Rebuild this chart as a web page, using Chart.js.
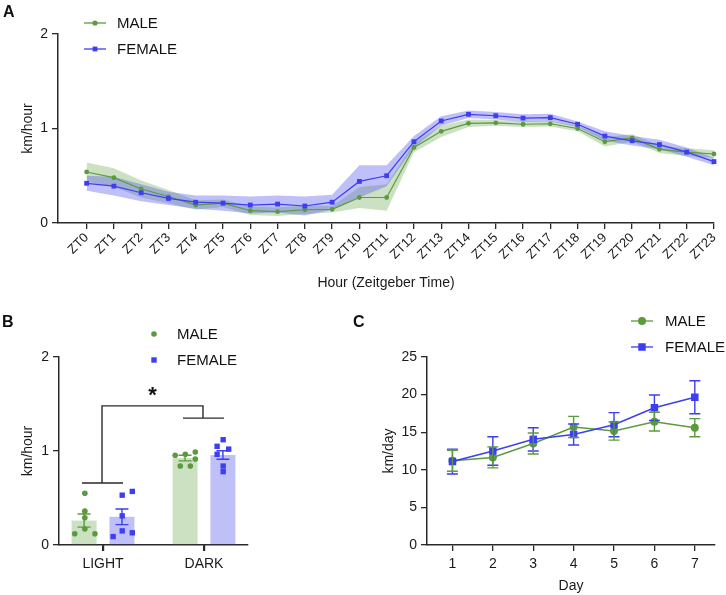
<!DOCTYPE html>
<html>
<head>
<meta charset="utf-8">
<script src="https://cdn.jsdelivr.net/npm/chart.js@4.4.1/dist/chart.umd.min.js"></script>
<style>
  body { margin: 0; background: #fff; }
  #wrap { position: relative; width: 726px; height: 595px; }
  canvas { position: absolute; }
</style>
</head>
<body>
<div id="wrap">
  <canvas id="chartA" width="726" height="300" style="left:0;top:0;width:726px;height:300px"></canvas>
  <canvas id="chartB" width="330" height="295" style="left:0;top:300px;width:330px;height:295px"></canvas>
  <canvas id="chartC" width="396" height="295" style="left:330px;top:300px;width:396px;height:295px"></canvas>
</div>
<script>
// panel A: hourly speed
const hourLabels = ["ZT0", "ZT1", "ZT2", "ZT3", "ZT4", "ZT5", "ZT6", "ZT7", "ZT8", "ZT9", "ZT10", "ZT11",
  "ZT12", "ZT13", "ZT14", "ZT15", "ZT16", "ZT17", "ZT18", "ZT19", "ZT20", "ZT21", "ZT22", "ZT23"];
const maleHourly = [0.54, 0.48, 0.36, 0.28, 0.19, 0.21, 0.13, 0.12, 0.14, 0.145, 0.27, 0.27,
  0.80, 0.97, 1.055, 1.06, 1.045, 1.05, 1.00, 0.86, 0.90, 0.78, 0.75, 0.73];
const maleHourlySem = [0.10, 0.10, 0.09, 0.07, 0.05, 0.04, 0.045, 0.045, 0.045, 0.035, 0.11, 0.14,
  0.05, 0.06, 0.04, 0.03, 0.03, 0.03, 0.03, 0.05, 0.04, 0.04, 0.04, 0.04];
const femaleHourly = [0.42, 0.39, 0.32, 0.26, 0.22, 0.21, 0.19, 0.20, 0.18, 0.22, 0.44, 0.50,
  0.86, 1.08, 1.15, 1.135, 1.11, 1.115, 1.045, 0.92, 0.87, 0.83, 0.75, 0.65];
const femaleHourlySem = [0.08, 0.10, 0.09, 0.07, 0.07, 0.08, 0.09, 0.09, 0.10, 0.08, 0.17, 0.11,
  0.06, 0.05, 0.04, 0.04, 0.04, 0.04, 0.03, 0.05, 0.05, 0.05, 0.05, 0.04];

// panel B: light vs dark phase
const phaseLabels = ["LIGHT", "DARK"];
const maleBar = [0.26, 0.925];
const maleBarSem = [0.07, 0.03];
const femaleBar = [0.30, 0.957];
const femaleBarSem = [0.083, 0.045];
const maleLight = [0.55, 0.36, 0.29, 0.17, 0.12, 0.12];
const femaleLight = [0.53, 0.57, 0.31, 0.15, 0.13, 0.09];
const maleDark = [0.955, 0.965, 0.99, 0.915, 0.84, 0.84];
const femaleDark = [1.12, 1.05, 1.02, 0.965, 0.84, 0.78];

// panel C: daily distance
const dayLabels = [1, 2, 3, 4, 5, 6, 7];
const maleDaily = [11.2, 11.65, 13.5, 15.7, 15.15, 16.4, 15.6];
const maleDailySem = [1.4, 1.4, 1.4, 1.4, 1.2, 1.25, 1.2];
const femaleDaily = [11.1, 12.5, 14.05, 14.7, 16.0, 18.25, 19.65];
const femaleDailySem = [1.65, 1.9, 1.55, 1.4, 1.6, 1.7, 2.2];

const GREEN = "#5b9a3d";
const BLUE = "#3d3df2";
const GREEN_FILL = "rgba(110, 170, 80, 0.35)";
const BLUE_FILL = "rgba(90, 90, 240, 0.38)";
const AXIS = "#2a2a2a";

Chart.defaults.font.family = "'Liberation Sans', Arial, sans-serif";
Chart.defaults.color = "#1a1a1a";

const pts = (arr, f = (v) => v) => arr.map((v, i) => ({ x: i, y: f(v, i) }));

function axisX(extra) {
  return Object.assign({
    type: "linear",
    grid: { drawOnChartArea: false, drawTicks: true, offset: false, tickLength: 6, color: AXIS, lineWidth: 1.3 },
    border: { color: AXIS, width: 1.5 },
  }, extra);
}

function axisY(extra) {
  return Object.assign({
    grid: { drawOnChartArea: false, drawTicks: true, tickLength: 6, color: AXIS, lineWidth: 1.3 },
    border: { color: AXIS, width: 1.5 },
  }, extra);
}

function drawLegendRow(ctx, x, y, color, shape, radius, label, withLine, textX) {
  ctx.save();
  if (withLine) {
    ctx.strokeStyle = color;
    ctx.lineWidth = 1.3;
    ctx.beginPath();
    ctx.moveTo(x - 11, y);
    ctx.lineTo(x + 11, y);
    ctx.stroke();
  }
  ctx.fillStyle = color;
  Chart.helpers.drawPoint(ctx, { pointStyle: shape, radius: radius, borderWidth: 0, rotation: 0 }, x, y);
  ctx.fillStyle = "#111";
  ctx.font = "15px 'Liberation Sans', Arial, sans-serif";
  ctx.textBaseline = "middle";
  ctx.textAlign = "left";
  ctx.fillText(label, textX, y + 1);
  ctx.restore();
}

function drawLetter(ctx, letter, x, y) {
  ctx.save();
  ctx.fillStyle = "#111";
  ctx.font = "bold 16px 'Liberation Sans', Arial, sans-serif";
  ctx.textBaseline = "top";
  ctx.fillText(letter, x, y);
  ctx.restore();
}

const errorBars = {
  id: "errorBars",
  afterDatasetsDraw(chart) {
    const { ctx } = chart;
    const yScale = chart.scales.y;
    chart.data.datasets.forEach((ds, di) => {
      if (!ds.errors) return;
      const meta = chart.getDatasetMeta(di);
      ctx.save();
      ctx.strokeStyle = ds.errorColor;
      ctx.lineWidth = 1.4;
      meta.data.forEach((el, i) => {
        const v = ds.data[i].y;
        const top = yScale.getPixelForValue(v + ds.errors[i]);
        const bot = yScale.getPixelForValue(v - ds.errors[i]);
        const w = ds.capWidth / 2;
        ctx.beginPath();
        ctx.moveTo(el.x, top);
        ctx.lineTo(el.x, bot);
        ctx.moveTo(el.x - w, top);
        ctx.lineTo(el.x + w, top);
        ctx.moveTo(el.x - w, bot);
        ctx.lineTo(el.x + w, bot);
        ctx.stroke();
      });
      ctx.restore();
    });
  },
};

// ---------- A ----------
new Chart(document.getElementById("chartA"), {
  type: "line",
  data: {
    datasets: [
      { label: "FEMALE", data: pts(femaleHourly), borderColor: BLUE, backgroundColor: BLUE, borderWidth: 1.2,
        pointStyle: "rect", pointRadius: 3.4, pointBorderWidth: 0, order: 0, clip: false },
      { label: "MALE", data: pts(maleHourly), borderColor: GREEN, backgroundColor: GREEN, borderWidth: 1.2,
        pointStyle: "circle", pointRadius: 2.4, pointBorderWidth: 0, order: 1, clip: false },
      { data: pts(maleHourly, (v, i) => v + maleHourlySem[i]), borderWidth: 0, borderColor: "transparent",
        pointRadius: 0, fill: false, order: 3 },
      { data: pts(maleHourly, (v, i) => v - maleHourlySem[i]), borderWidth: 0, borderColor: "transparent",
        pointRadius: 0, fill: "-1", backgroundColor: GREEN_FILL, order: 3 },
      { data: pts(femaleHourly, (v, i) => v + femaleHourlySem[i]), borderWidth: 0, borderColor: "transparent",
        pointRadius: 0, fill: false, order: 2 },
      { data: pts(femaleHourly, (v, i) => v - femaleHourlySem[i]), borderWidth: 0, borderColor: "transparent",
        pointRadius: 0, fill: "-1", backgroundColor: BLUE_FILL, order: 2 },
    ],
  },
  options: {
    responsive: false,
    animation: false,
    layout: { padding: { top: 34, right: 4, left: 0, bottom: 0 } },
    plugins: { legend: { display: false }, tooltip: { enabled: false } },
    scales: {
      x: axisX({
        min: -1.05,
        max: 23,
        afterBuildTicks: (s) => { s.ticks = hourLabels.map((_, i) => ({ value: i })); },
        afterFit: (s) => { s.height = 77; },
        ticks: { callback: (v) => hourLabels[v], minRotation: 45, maxRotation: 45, autoSkip: false,
          font: { size: 13 }, padding: 1 },
        title: { display: true, text: "Hour (Zeitgeber Time)", font: { size: 14 }, padding: { top: 0, bottom: 8.6 } },
      }),
      y: axisY({
        min: 0,
        max: 2,
        afterFit: (s) => { s.width = 58; },
        ticks: { stepSize: 1, font: { size: 14 }, padding: 4 },
        title: { display: true, text: "km/hour", font: { size: 14 }, padding: { top: 19.6, bottom: 0 } },
      }),
    },
  },
  plugins: [{
    id: "panelA",
    afterDraw(chart) {
      const { ctx } = chart;
      drawLetter(ctx, "A", 3, 5);
      drawLegendRow(ctx, 95, 23, GREEN, "circle", 2.6, "MALE", true, 117);
      drawLegendRow(ctx, 95, 49, BLUE, "rect", 3.4, "FEMALE", true, 117);
    },
  }],
});

// ---------- B ----------
const maleJitter = [[-0.18, -0.18, -0.18, -0.18, -0.28, -0.08], [-0.285, -0.185, -0.086, -0.086, -0.235, -0.135]];
const femaleJitter = [[0.19, 0.29, 0.19, 0.19, 0.29, 0.10], [0.19, 0.13, 0.245, 0.13, 0.19, 0.19]];
const scatterPts = (groups, jitter) => groups.flatMap((vals, g) => vals.map((v, i) => ({ x: g + jitter[g][i], y: v })));

new Chart(document.getElementById("chartB"), {
  type: "bar",
  data: {
    datasets: [
      { type: "bar", label: "MALE", data: pts(maleBar), backgroundColor: GREEN_FILL, borderWidth: 0,
        categoryPercentage: 0.75, barPercentage: 0.66, errors: maleBarSem, errorColor: GREEN, capWidth: 13, order: 3 },
      { type: "bar", label: "FEMALE", data: pts(femaleBar), backgroundColor: BLUE_FILL, borderWidth: 0,
        categoryPercentage: 0.75, barPercentage: 0.66, errors: femaleBarSem, errorColor: BLUE, capWidth: 13, order: 3 },
      { type: "scatter", label: "MALE", data: scatterPts([maleLight, maleDark], maleJitter),
        pointStyle: "circle", pointRadius: 2.8, backgroundColor: GREEN, borderWidth: 0, order: 1 },
      { type: "scatter", label: "FEMALE", data: scatterPts([femaleLight, femaleDark], femaleJitter),
        pointStyle: "rect", pointRadius: 3.8, backgroundColor: BLUE, borderWidth: 0, order: 0 },
    ],
  },
  options: {
    responsive: false,
    animation: false,
    layout: { padding: { top: 57, right: 82, left: 0, bottom: 0 } },
    plugins: { legend: { display: false }, tooltip: { enabled: false } },
    scales: {
      x: axisX({
        offset: false,
        min: -0.436,
        max: 1.436,
        afterBuildTicks: (s) => { s.ticks = phaseLabels.map((_, i) => ({ value: i })); },
        afterFit: (s) => { s.height = 50; },
        ticks: { callback: (v) => phaseLabels[v], maxRotation: 0, font: { size: 14 }, padding: 5 },
      }),
      y: axisY({
        min: 0,
        max: 2,
        afterFit: (s) => { s.width = 59; },
        ticks: { stepSize: 1, font: { size: 14 }, padding: 4 },
        title: { display: true, text: "km/hour", font: { size: 14 }, padding: { top: 19.6, bottom: 0 } },
      }),
    },
  },
  plugins: [errorBars, {
    id: "panelB",
    afterDraw(chart) {
      const { ctx } = chart;
      const xs = chart.scales.x;
      const ys = chart.scales.y;
      drawLetter(ctx, "B", 2, 15);
      drawLegendRow(ctx, 154, 34, GREEN, "circle", 2.8, "MALE", false, 177);
      drawLegendRow(ctx, 154, 60, BLUE, "rect", 3.8, "FEMALE", false, 177);
      ctx.save();
      ctx.strokeStyle = AXIS;
      ctx.lineWidth = 1.4;
      // category tick marks under the axis
      ctx.beginPath();
      phaseLabels.forEach((_, i) => {
        const px = Math.round(xs.getPixelForValue(i)) + 0.5;
        ctx.moveTo(px, ys.bottom);
        ctx.lineTo(px, ys.bottom + 6);
      });
      ctx.stroke();
      // significance bracket
      const xL = xs.getPixelForValue(0) - 1;
      const xD = xs.getPixelForValue(1) - 1;
      const yL = ys.getPixelForValue(0.66);
      const yTop = ys.getPixelForValue(1.48);
      const yD = ys.getPixelForValue(1.35);
      ctx.beginPath();
      ctx.moveTo(xL - 20, yL); ctx.lineTo(xL + 21, yL);
      ctx.moveTo(xL, yL); ctx.lineTo(xL, yTop); ctx.lineTo(xD, yTop); ctx.lineTo(xD, yD);
      ctx.moveTo(xD - 20, yD); ctx.lineTo(xD + 21, yD);
      ctx.stroke();
      ctx.fillStyle = "#111";
      ctx.font = "bold 22px 'Liberation Sans', Arial, sans-serif";
      ctx.textAlign = "center";
      ctx.textBaseline = "middle";
      ctx.fillText("*", (xL + xD) / 2, yTop - 10);
      ctx.restore();
    },
  }],
});

// ---------- C ----------
const dayPts = (arr) => arr.map((v, i) => ({ x: dayLabels[i], y: v }));

new Chart(document.getElementById("chartC"), {
  type: "line",
  data: {
    datasets: [
      { label: "FEMALE", data: dayPts(femaleDaily), borderColor: BLUE, backgroundColor: BLUE, borderWidth: 1.5,
        pointStyle: "rect", pointRadius: 5.3, pointBorderWidth: 0, errors: femaleDailySem, errorColor: BLUE,
        capWidth: 11, order: 0, clip: false },
      { label: "MALE", data: dayPts(maleDaily), borderColor: GREEN, backgroundColor: GREEN, borderWidth: 1.5,
        pointStyle: "circle", pointRadius: 4, pointBorderWidth: 0, errors: maleDailySem, errorColor: GREEN,
        capWidth: 11, order: 1, clip: false },
    ],
  },
  options: {
    responsive: false,
    animation: false,
    layout: { padding: { top: 57, right: 11, left: 0, bottom: 0 } },
    plugins: { legend: { display: false }, tooltip: { enabled: false } },
    scales: {
      x: axisX({
        min: 0.37,
        max: 7.5,
        afterBuildTicks: (s) => { s.ticks = dayLabels.map((d) => ({ value: d })); },
        afterFit: (s) => { s.height = 50; },
        ticks: { maxRotation: 0, font: { size: 14 }, padding: 5 },
        title: { display: true, text: "Day", font: { size: 14 }, padding: { top: 0, bottom: 0.5 } },
      }),
      y: axisY({
        min: 0,
        max: 25,
        afterFit: (s) => { s.width = 97; },
        ticks: { stepSize: 5, font: { size: 14 }, padding: 4 },
        title: { display: true, text: "km/day", font: { size: 14 }, padding: { top: 50.5, bottom: 0 } },
      }),
    },
  },
  plugins: [errorBars, {
    id: "panelC",
    afterDraw(chart) {
      const { ctx } = chart;
      drawLetter(ctx, "C", 23, 15);
      drawLegendRow(ctx, 312, 21, GREEN, "circle", 4, "MALE", true, 335);
      drawLegendRow(ctx, 312, 47, BLUE, "rect", 5.3, "FEMALE", true, 335);
    },
  }],
});
</script>
</body>
</html>
